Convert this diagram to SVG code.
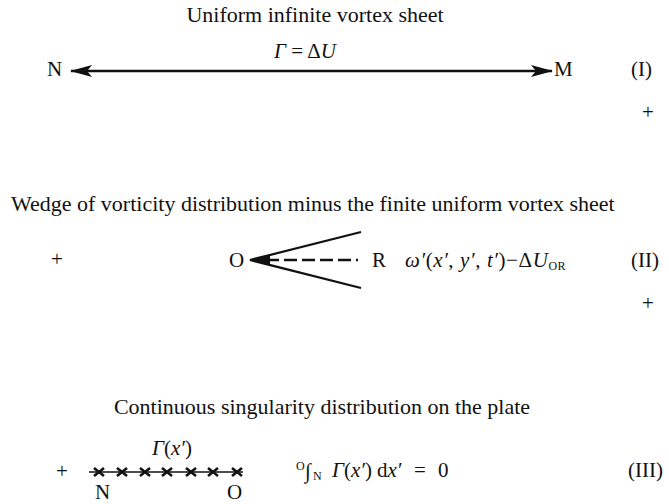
<svg xmlns="http://www.w3.org/2000/svg" width="669" height="504" viewBox="0 0 669 504">
<defs>
<style>
text{font-family:"Liberation Serif","Times New Roman",serif;font-size:21px;fill:#111}
.ttl{font-size:22px}
.it{font-style:italic}
.sc{font-size:12px}
.ln{stroke:#111;fill:none}
</style>
<marker id="ah" viewBox="0 0 22 12" refX="21" refY="6" markerWidth="22" markerHeight="12" markerUnits="userSpaceOnUse" orient="auto-start-reverse">
<path d="M0,0 L22,6 L0,12 L5,6 Z" fill="#111"/>
</marker>
</defs>
<rect width="669" height="504" fill="#fff"/>

<g id="section1">
<text class="ttl" x="315" y="22" text-anchor="middle">Uniform infinite vortex sheet</text>
<text x="305" y="58" text-anchor="middle" font-size="22"><tspan class="it">Γ</tspan> = Δ<tspan class="it">U</tspan></text>
<g id="nodeN1"><text x="47" y="76">N</text></g>
<g id="nodeM"><text x="554" y="76">M</text></g>
<text x="631" y="76">(I)</text>
<text x="648" y="119" text-anchor="middle">+</text>
</g>

<g id="section2">
<text class="ttl" x="11" y="211">Wedge of vorticity distribution minus the finite uniform vortex sheet</text>
<text x="57" y="266" text-anchor="middle">+</text>
<g id="nodeO"><text x="229" y="267">O</text></g>
<g id="nodeR"><text x="372" y="267">R</text></g>
<text x="405" y="267" letter-spacing="0.6"><tspan class="it">ω′</tspan>(<tspan class="it">x′</tspan>, <tspan class="it">y′</tspan>, <tspan class="it">t′</tspan>)−Δ<tspan class="it">U</tspan><tspan class="sc" dy="3" letter-spacing="0.5">OR</tspan></text>
<text x="631" y="267">(II)</text>
<text x="648" y="310" text-anchor="middle">+</text>
</g>

<g id="section3">
<text class="ttl" x="322" y="414" text-anchor="middle">Continuous singularity distribution on the plate</text>
<text x="62" y="478" text-anchor="middle">+</text>
<text x="152" y="455"><tspan class="it">Γ</tspan>(<tspan class="it">x′</tspan>)</text>
<g id="nodeN3"><text x="95" y="499">N</text></g>
<g id="nodeO3"><text x="227" y="499">O</text></g>
<text x="296" y="470" class="sc">O</text>
<text x="305" y="478" font-size="23">∫</text>
<text x="313" y="480" class="sc">N</text>
<text x="332" y="477"><tspan class="it">Γ</tspan>(<tspan class="it">x′</tspan>)</text>
<text x="377" y="477">d<tspan class="it">x′</tspan></text>
<text x="414" y="477">=</text>
<text x="438" y="477">0</text>
<text x="628" y="477">(III)</text>
</g>

<g id="connectors">
<line class="ln" x1="71" y1="71" x2="552" y2="71" stroke-width="2.5" marker-start="url(#ah)" marker-end="url(#ah)"/>
<path class="ln" d="M250,260 L361,232 M250,260 L361,288" stroke-width="2.2"/>
<path d="M249,260 L270,255 L270,265 Z" fill="#111"/>
<line class="ln" x1="266" y1="260" x2="358" y2="260" stroke-width="2.5" stroke-dasharray="13 5"/>
<line class="ln" x1="89" y1="472" x2="243" y2="472" stroke-width="1.3"/>
<g class="ln" stroke-width="2.6">
<path d="M94,468 L104,476 M104,468 L94,476"/>
<path d="M117,468 L127,476 M127,468 L117,476"/>
<path d="M140,468 L150,476 M150,468 L140,476"/>
<path d="M162,468 L172,476 M172,468 L162,476"/>
<path d="M186,468 L196,476 M196,468 L186,476"/>
<path d="M208,468 L218,476 M218,468 L208,476"/>
<path d="M232,468 L242,476 M242,468 L232,476"/>
</g>
</g>
</svg>
